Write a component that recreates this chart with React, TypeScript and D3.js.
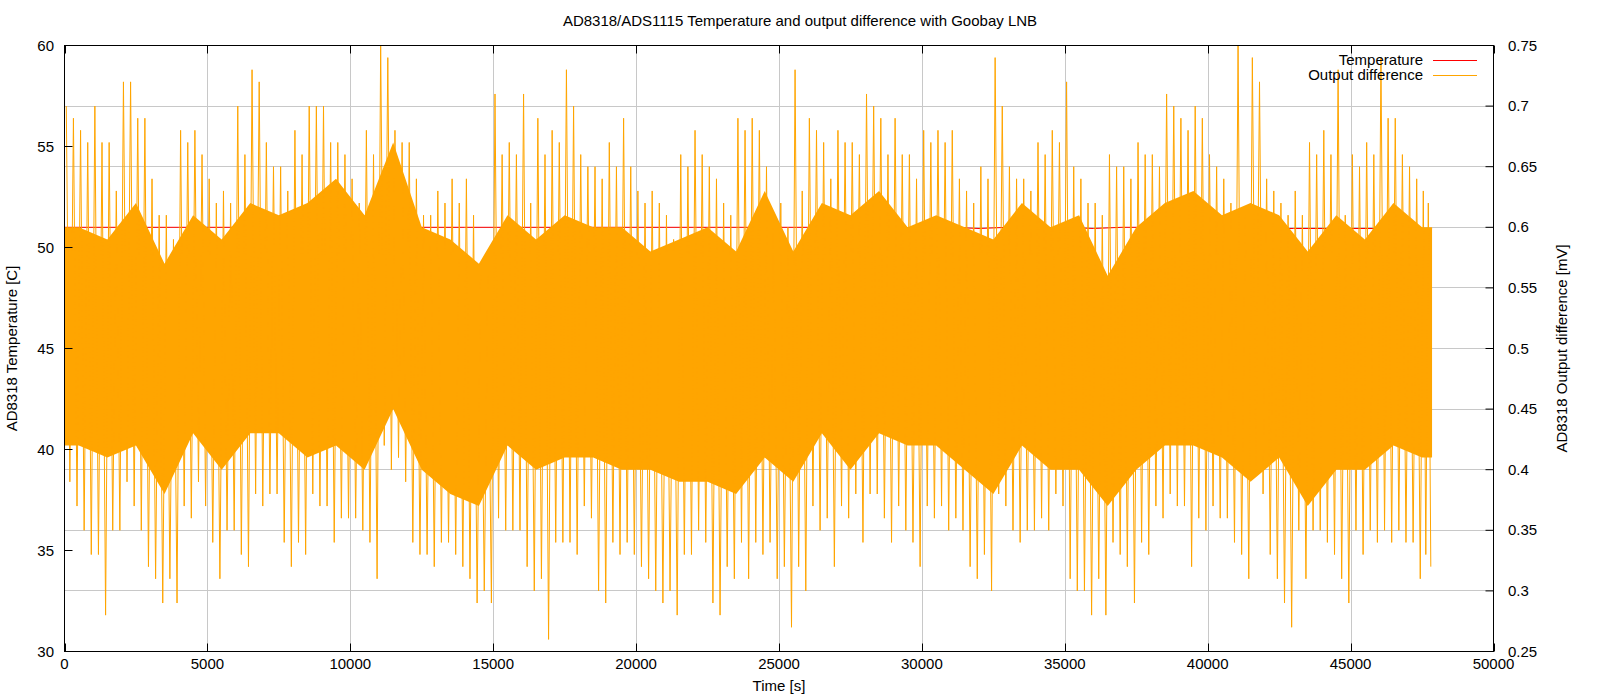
import React, { useRef, useEffect } from 'react';
import * as d3 from 'd3';

const WIDTH = 1600;
const HEIGHT = 700;

const BUCKET = 500;       // seconds per peak reading of the output difference
const CORE_BUCKET = 1000; // seconds per dense-band reading and temperature reading
const END_TIME = 47850;

// highest and lowest output difference seen in each 500 s window [mV]
const outputMax = [
  0.70, 0.68, 0.70, 0.67, 0.72, 0.69, 0.64, 0.61, 0.68, 0.68, 0.64, 0.63, 0.70, 0.73, 0.67,
  0.65, 0.68, 0.70, 0.70, 0.67, 0.64, 0.68, 0.75, 0.68, 0.67, 0.61, 0.63, 0.64, 0.64, 0.57,
  0.71, 0.67, 0.71, 0.69, 0.68, 0.73, 0.66, 0.65, 0.67, 0.69, 0.63, 0.63, 0.61, 0.66,
  0.68, 0.65, 0.62, 0.69, 0.69, 0.65, 0.62, 0.73, 0.69, 0.67, 0.68, 0.67, 0.71, 0.69, 0.69,
  0.66, 0.68, 0.68, 0.68, 0.63, 0.65, 0.74, 0.65, 0.64, 0.67, 0.68, 0.72, 0.64, 0.62, 0.66,
  0.65, 0.67, 0.66, 0.71, 0.69, 0.70, 0.66, 0.64, 0.75, 0.74, 0.64, 0.62, 0.63, 0.67,
  0.68, 0.73, 0.66, 0.67, 0.74, 0.69, 0.65, 0.63,
];
const outputMin = [
  0.37, 0.33, 0.28, 0.35, 0.37, 0.32, 0.29, 0.29, 0.36, 0.37, 0.31, 0.35, 0.32, 0.37, 0.38,
  0.32, 0.33, 0.37, 0.34, 0.36, 0.35, 0.31, 0.40, 0.39, 0.33, 0.32, 0.34, 0.32, 0.29, 0.29,
  0.35, 0.35, 0.30, 0.26, 0.34, 0.33, 0.36, 0.29, 0.33, 0.33, 0.31, 0.29, 0.28, 0.33,
  0.34, 0.28, 0.31, 0.31, 0.33, 0.31, 0.27, 0.30, 0.35, 0.32, 0.36, 0.34, 0.38, 0.34, 0.35,
  0.32, 0.36, 0.35, 0.35, 0.31, 0.30, 0.37, 0.34, 0.35, 0.35, 0.37, 0.30, 0.28, 0.28, 0.33,
  0.29, 0.33, 0.36, 0.37, 0.32, 0.35, 0.36, 0.34, 0.31, 0.38, 0.31, 0.27, 0.31, 0.35,
  0.33, 0.29, 0.33, 0.34, 0.34, 0.34, 0.31, 0.32,
];

// next-highest and next-lowest spikes in the same 500 s windows [mV]
const outputHigh2 = [
  0.69, 0.67, 0.67, 0.63, 0.72, 0.69, 0.61, 0.59, 0.67, 0.66, 0.62, 0.62, 0.66, 0.72, 0.65,
  0.63, 0.66, 0.70, 0.67, 0.66, 0.62, 0.66, 0.74, 0.67, 0.64, 0.61, 0.62, 0.62, 0.61, 0.56,
  0.66, 0.66, 0.62, 0.66, 0.67, 0.70, 0.65, 0.64, 0.65, 0.65, 0.62, 0.62, 0.59, 0.65,
  0.66, 0.64, 0.61, 0.68, 0.68, 0.61, 0.60, 0.63, 0.68, 0.64, 0.67, 0.66, 0.70, 0.66, 0.66,
  0.64, 0.67, 0.67, 0.64, 0.62, 0.64, 0.70, 0.64, 0.63, 0.66, 0.67, 0.65, 0.62, 0.61, 0.65,
  0.64, 0.66, 0.65, 0.70, 0.68, 0.69, 0.65, 0.62, 0.61, 0.72, 0.63, 0.61, 0.61, 0.66,
  0.66, 0.61, 0.65, 0.66, 0.69, 0.66, 0.64, 0.62,
];
const outputLow2 = [
  0.39, 0.35, 0.33, 0.35, 0.39, 0.35, 0.31, 0.31, 0.37, 0.39, 0.34, 0.35, 0.33, 0.38, 0.38,
  0.34, 0.34, 0.38, 0.37, 0.36, 0.36, 0.34, 0.42, 0.41, 0.34, 0.33, 0.34, 0.33, 0.31, 0.30,
  0.36, 0.35, 0.32, 0.31, 0.34, 0.34, 0.37, 0.30, 0.34, 0.34, 0.32, 0.30, 0.30, 0.33,
  0.35, 0.29, 0.32, 0.34, 0.34, 0.34, 0.32, 0.32, 0.37, 0.36, 0.37, 0.38, 0.38, 0.36, 0.37,
  0.34, 0.37, 0.37, 0.36, 0.32, 0.33, 0.38, 0.35, 0.35, 0.36, 0.38, 0.31, 0.30, 0.31, 0.34,
  0.32, 0.34, 0.37, 0.38, 0.37, 0.36, 0.37, 0.36, 0.33, 0.40, 0.33, 0.29, 0.35, 0.35,
  0.34, 0.31, 0.35, 0.35, 0.35, 0.35, 0.34, 0.33,
];

// edges of the dense (solid) band per 1000 s window [mV]
const coreHigh = [
  0.60, 0.59, 0.62, 0.57, 0.61, 0.59, 0.62, 0.61,
  0.62, 0.64, 0.61, 0.67, 0.60, 0.59, 0.57,
  0.61, 0.59, 0.61, 0.60, 0.60, 0.58, 0.59,
  0.60, 0.58, 0.63, 0.58, 0.62, 0.61, 0.63, 0.60,
  0.61, 0.60, 0.59, 0.62, 0.60, 0.61, 0.56,
  0.60, 0.62, 0.63, 0.61, 0.62, 0.61, 0.58, 0.61, 0.59, 0.62, 0.60,
];
const coreLow = [
  0.42, 0.41, 0.42, 0.38, 0.43, 0.40, 0.43, 0.43,
  0.41, 0.42, 0.40, 0.45, 0.40, 0.38, 0.37,
  0.42, 0.40, 0.41, 0.41, 0.40, 0.40, 0.39,
  0.39, 0.38, 0.41, 0.39, 0.43, 0.40, 0.43, 0.42,
  0.42, 0.40, 0.38, 0.42, 0.40, 0.40, 0.37,
  0.40, 0.42, 0.42, 0.41, 0.39, 0.41, 0.37, 0.40, 0.40, 0.42, 0.41,
];

// AD8318 temperature, one reading per 1000 s [C]
const temperature = [
  51.0, 51.0, 51.0, 51.0, 51.0, 51.0, 51.0, 51.0, 51.0, 51.0,
  51.0, 51.0, 51.0, 51.0, 51.0, 51.0, 51.0, 51.0, 51.0, 51.0,
  51.0, 51.0, 51.0, 51.0, 51.0, 51.0, 51.0, 51.0, 51.0, 51.0,
  50.94, 51.0, 50.94, 51.0, 50.94, 51.0, 50.94,
  51.0, 51.0, 51.0, 51.0,
  50.94, 50.94, 50.94, 50.94, 50.94, 50.94, 50.94,
];

const xTicks = [0, 5000, 10000, 15000, 20000, 25000, 30000, 35000, 40000, 45000, 50000];
const yTicks = [30, 35, 40, 45, 50, 55, 60];
const y2Ticks = [0.25, 0.3, 0.35, 0.4, 0.45, 0.5, 0.55, 0.6, 0.65, 0.7, 0.75];

const FONT = '"Liberation Sans", Arial, Helvetica, sans-serif';

const Chart = () => {
  const ref = useRef<SVGSVGElement>(null);

  useEffect(() => {
    document.body.style.margin = '0';

    const left = 64.5, right = 1493.5, top = 45.5, bottom = 651.5;
    const tickLen = 8;

    const x = d3.scaleLinear().domain([0, 50000]).range([left, right]);
    const y = d3.scaleLinear().domain([30, 60]).range([bottom, top]);
    const y2 = d3.scaleLinear().domain([0.25, 0.75]).range([bottom, top]);

    const svg = d3.select(ref.current);
    svg.selectAll('*').remove();
    svg.attr('font-family', FONT).attr('font-size', 15);

    svg.append('rect').attr('width', WIDTH).attr('height', HEIGHT).attr('fill', '#fff');

    // grid (x tics and y2 tics)
    const grid = svg.append('g').attr('stroke', '#c8c8c8').attr('stroke-width', 1);
    grid.selectAll('line.gx')
      .data(xTicks.slice(1, -1))
      .join('line')
      .attr('x1', d => Math.round(x(d)) + 0.5).attr('x2', d => Math.round(x(d)) + 0.5)
      .attr('y1', top).attr('y2', bottom);
    grid.selectAll('line.gy')
      .data(y2Ticks.slice(1, -1))
      .join('line')
      .attr('x1', left).attr('x2', right)
      .attr('y1', d => Math.round(y2(d) - 0.5) + 0.5).attr('y2', d => Math.round(y2(d) - 0.5) + 0.5);

    // temperature
    const tempPoints: [number, number][] = temperature.map((v, i) => [i * CORE_BUCKET, v]);
    tempPoints.push([END_TIME, temperature[temperature.length - 1]]);
    svg.append('path')
      .datum(tempPoints)
      .attr('fill', 'none')
      .attr('stroke', '#ff0000')
      .attr('stroke-width', 1)
      .attr('d', d3.line<[number, number]>().x(d => x(d[0])).y(d => y(d[1])));

    // output difference: dense band, readings placed at window centres
    const corePoints = coreHigh.map((h, i) => ({
      t: Math.min(i * CORE_BUCKET + CORE_BUCKET / 2, END_TIME),
      hi: h,
      lo: coreLow[i],
    }));
    corePoints.unshift({ t: 0, hi: coreHigh[0], lo: coreLow[0] });
    corePoints.push({ t: END_TIME, hi: coreHigh[coreHigh.length - 1], lo: coreLow[coreLow.length - 1] });
    svg.append('path')
      .datum(corePoints)
      .attr('fill', '#ffa500')
      .attr('d', d3.area<{ t: number; hi: number; lo: number }>()
        .x(d => x(d.t))
        .y0(d => y2(d.lo))
        .y1(d => y2(d.hi)));

    // output difference: the trace swinging between the spikes of each window
    const trace: [number, number][] = [];
    outputMax.forEach((mx, i) => {
      const t0 = i * BUCKET;
      const span = Math.min(t0 + BUCKET, END_TIME) - t0;
      trace.push([t0 + span * 0.125, mx]);
      trace.push([t0 + span * 0.375, outputLow2[i]]);
      trace.push([t0 + span * 0.625, outputHigh2[i]]);
      trace.push([t0 + span * 0.875, outputMin[i]]);
    });
    svg.append('path')
      .datum(trace)
      .attr('fill', 'none')
      .attr('stroke', '#ffa500')
      .attr('stroke-width', 1)
      .attr('d', d3.line<[number, number]>().x(d => x(d[0])).y(d => y2(d[1])));

    // border
    svg.append('rect')
      .attr('x', left).attr('y', top)
      .attr('width', right - left).attr('height', bottom - top)
      .attr('fill', 'none').attr('stroke', '#000').attr('stroke-width', 1);

    // ticks
    const ticks = svg.append('g').attr('stroke', '#000').attr('stroke-width', 1);
    xTicks.forEach(t => {
      const px = Math.round(x(t)) + 0.5;
      ticks.append('line').attr('x1', px).attr('x2', px).attr('y1', bottom).attr('y2', bottom - tickLen);
      ticks.append('line').attr('x1', px).attr('x2', px).attr('y1', top).attr('y2', top + tickLen);
    });
    yTicks.forEach(t => {
      ticks.append('line').attr('x1', left).attr('x2', left + tickLen).attr('y1', y(t)).attr('y2', y(t));
    });
    y2Ticks.forEach(t => {
      ticks.append('line').attr('x1', right).attr('x2', right - tickLen).attr('y1', y2(t)).attr('y2', y2(t));
    });

    // tick labels
    svg.append('g')
      .selectAll('text')
      .data(xTicks)
      .join('text')
      .attr('x', d => x(d))
      .attr('y', 669)
      .attr('text-anchor', 'middle')
      .text(d => String(d));
    svg.append('g')
      .selectAll('text')
      .data(yTicks)
      .join('text')
      .attr('x', 54)
      .attr('y', d => y(d) + 5)
      .attr('text-anchor', 'end')
      .text(d => String(d));
    svg.append('g')
      .selectAll('text')
      .data(y2Ticks)
      .join('text')
      .attr('x', 1508)
      .attr('y', d => y2(d) + 5)
      .attr('text-anchor', 'start')
      .text(d => String(d));

    // titles
    svg.append('text')
      .attr('x', 800).attr('y', 26)
      .attr('text-anchor', 'middle')
      .text('AD8318/ADS1115 Temperature and output difference with Goobay LNB');
    svg.append('text')
      .attr('x', (left + right) / 2).attr('y', 691)
      .attr('text-anchor', 'middle')
      .text('Time [s]');
    svg.append('text')
      .attr('transform', `translate(17,${(top + bottom) / 2}) rotate(-90)`)
      .attr('text-anchor', 'middle')
      .text('AD8318 Temperature [C]');
    svg.append('text')
      .attr('transform', `translate(1567,${(top + bottom) / 2}) rotate(-90)`)
      .attr('text-anchor', 'middle')
      .text('AD8318 Output difference [mV]');

    // legend
    const legend = [
      { label: 'Temperature', color: '#ff0000' },
      { label: 'Output difference', color: '#ffa500' },
    ];
    const lg = svg.append('g');
    legend.forEach((item, i) => {
      const ly = 60.5 + i * 15;
      lg.append('text')
        .attr('x', 1423).attr('y', ly + 4.5)
        .attr('text-anchor', 'end')
        .text(item.label);
      lg.append('line')
        .attr('x1', 1433).attr('x2', 1477)
        .attr('y1', ly).attr('y2', ly)
        .attr('stroke', item.color).attr('stroke-width', 1);
    });
  }, []);

  return (
    <svg
      ref={ref}
      width={WIDTH}
      height={HEIGHT}
      style={{ position: 'absolute', left: 0, top: 0, display: 'block' }}
    />
  );
};

export default function App() {
  return <Chart />;
}
